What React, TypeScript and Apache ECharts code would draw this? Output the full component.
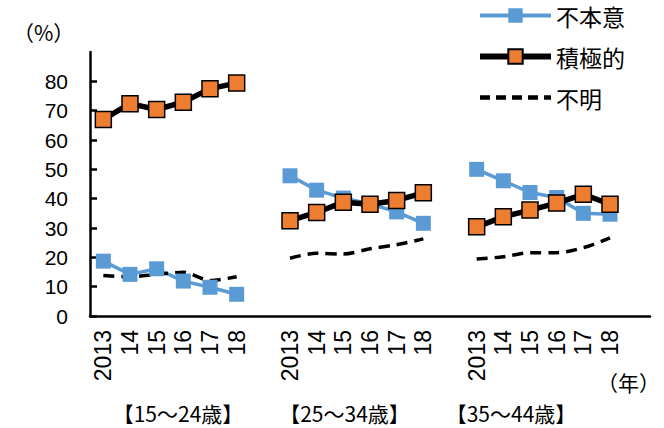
import React, { useEffect, useRef } from "react";
import * as echarts from "echarts";

// Year labels per age group, with an empty slot separating the groups
const yearLabels = ["2013", "14", "15", "16", "17", "18"];
const categories = [...yearLabels, "", ...yearLabels, "", ...yearLabels, ""];

const ageGroups = ["【15～24歳】", "【25～34歳】", "【35～44歳】"];

// Values (%) per age group, 2013–18
const involuntary = [
  [18.7, 14.2, 16.1, 11.9, 9.8, 7.4],
  [47.8, 42.9, 40.2, 38.2, 35.5, 31.6],
  [50.0, 46.1, 42.1, 40.4, 35.0, 34.7],
];
const positive = [
  [67.0, 72.4, 70.4, 72.9, 77.5, 79.4],
  [32.5, 35.3, 38.8, 38.1, 39.4, 42.0],
  [30.4, 33.8, 36.1, 38.5, 41.5, 38.1],
];
const unknown = [
  [13.8, 13.4, 14.2, 14.9, 12.1, 13.4],
  [19.7, 21.4, 21.1, 22.9, 24.3, 26.3],
  [19.4, 20.2, 21.6, 21.6, 23.3, 26.6],
];

const yTicks = [0, 10, 20, 30, 40, 50, 60, 70, 80];

const FONT = "'Liberation Sans', 'Noto Sans CJK JP', sans-serif";
const CJK = "'Noto Sans CJK JP', sans-serif";

// Flatten the three groups onto the category axis, breaking the line at the gaps
const flatten = (groups: number[][]) =>
  groups.flatMap((g) => [...g, "-" as any]);

export default function App() {
  const ref = useRef<HTMLDivElement>(null);

  useEffect(() => {
    if (!ref.current) return;
    const chart = echarts.init(ref.current, null, { renderer: "svg" });
    chart.setOption({
      animation: false,
      textStyle: { fontFamily: FONT, color: "#000" },
      grid: { left: 90, right: 14, top: 52, bottom: 112, containLabel: false },
      legend: {
        orient: "vertical",
        left: 477,
        top: 4,
        padding: 0,
        itemWidth: 71,
        itemHeight: 18,
        itemGap: 18,
        itemTextGap: 7,
        textStyle: { fontSize: 23, color: "#000", fontFamily: CJK },
        data: [
          { name: "不本意", lineStyle: { width: 4 } },
          { name: "積極的", lineStyle: { width: 6 } },
          {
            name: "不明",
            lineStyle: { width: 4.5, type: [10, 6] },
            itemStyle: { opacity: 0 },
          },
        ],
      },
      xAxis: {
        type: "category",
        data: categories,
        boundaryGap: true,
        axisLine: { lineStyle: { color: "#000", width: 2.5 } },
        axisTick: {
          interval: 0,
          length: 7,
          lineStyle: { color: "#000", width: 2.5 },
        },
        axisLabel: {
          interval: 0,
          rotate: 90,
          margin: 14,
          fontSize: 23,
          color: "#000",
          fontFamily: FONT,
        },
      },
      yAxis: {
        type: "value",
        min: 0,
        max: 90,
        interval: 10,
        splitLine: { show: false },
        axisLine: { show: true, lineStyle: { color: "#000", width: 2.5 } },
        axisTick: {
          show: true,
          inside: true,
          length: 7,
          customValues: yTicks,
          lineStyle: { color: "#000", width: 2.5 },
        },
        axisLabel: {
          margin: 22,
          fontSize: 21,
          color: "#000",
          fontFamily: FONT,
          customValues: yTicks,
          formatter: (v: number) => (v > 80 ? "" : String(v)),
        },
      },
      series: [
        {
          name: "不本意",
          type: "line",
          data: flatten(involuntary),
          symbol: "rect",
          symbolSize: 15,
          itemStyle: { color: "#5B9BD5" },
          lineStyle: { color: "#5B9BD5", width: 3.5 },
        },
        {
          name: "積極的",
          type: "line",
          data: flatten(positive),
          symbol: "rect",
          symbolSize: 16,
          itemStyle: { color: "#ED7D31", borderColor: "#000", borderWidth: 1.5 },
          lineStyle: { color: "#000", width: 5.5 },
        },
        {
          name: "不明",
          type: "line",
          data: flatten(unknown),
          symbol: "none",
          smooth: 0.3,
          itemStyle: { color: "#000" },
          lineStyle: { color: "#000", width: 3.5, type: [11, 7] },
        },
      ],
      graphic: [
        {
          type: "text",
          left: 13,
          top: 21,
          style: { text: "（%）", fontSize: 21, fill: "#000", fontFamily: CJK },
        },
        {
          type: "text",
          left: 597,
          top: 371,
          style: { text: "（年）", fontSize: 21, fill: "#000", fontFamily: CJK },
        },
        ...ageGroups.map((label, i) => ({
          type: "text",
          x: 178 + i * 166.5,
          y: 413,
          style: {
            text: label,
            fontSize: 21,
            fill: "#000",
            fontFamily: CJK,
            align: "center",
            verticalAlign: "middle",
          },
        })),
      ],
    });
    return () => chart.dispose();
  }, []);

  return (
    <div
      ref={ref}
      style={{ position: "absolute", left: 0, top: 0, width: 664, height: 428 }}
    />
  );
}
